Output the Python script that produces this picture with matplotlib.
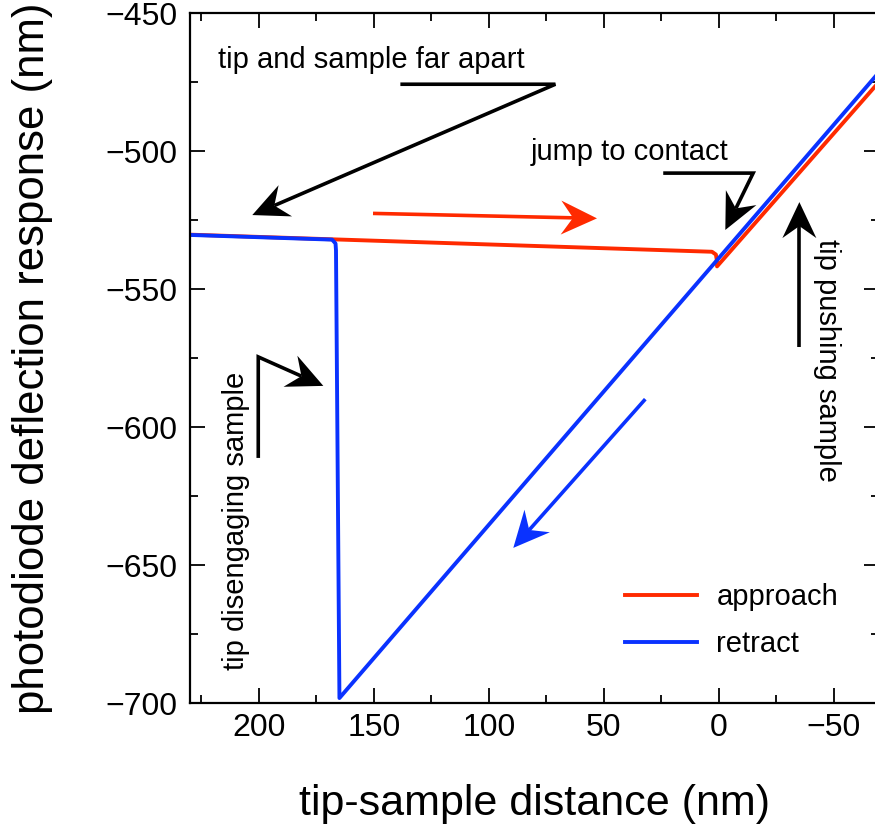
import numpy as np
import matplotlib
matplotlib.use('Agg')
import matplotlib.pyplot as plt
from matplotlib.lines import Line2D
from matplotlib.patches import Polygon
from matplotlib.transforms import IdentityTransform

plt.rcParams['font.family'] = ['Liberation Sans', 'DejaVu Sans']

# force curve (nm)
approach_x = [230, 3.0, 1.3, 0.9, 0.8, -69.6]
approach_y = [-530.3, -536.5, -537.5, -539.5, -541.8, -475.0]
retract_x = [-69.6, 165.0, 166.5, 166.7, 168.2, 230]
retract_y = [-471.5, -698.2, -536.0, -533.5, -532.1, -530.4]

red = '#ff2a00'
blue = '#0a32ff'

fig = plt.figure(figsize=(8.75, 8.3), dpi=100)
ax = fig.add_axes([0.2171, 0.1530, 0.7874, 0.8313])

ax.plot(approach_x, approach_y, color=red, lw=2.8, solid_joinstyle='round', label='approach')
ax.plot(retract_x, retract_y, color=blue, lw=2.8, solid_joinstyle='round', label='retract')

ax.set_xlim(230, -69.6)
ax.set_ylim(-700, -450)
ax.set_xticks([200, 150, 100, 50, 0, -50])
ax.set_xticks(np.arange(-50, 230, 25), minor=True)
ax.set_yticks(np.arange(-700, -449, 50))
ax.set_yticks(np.arange(-700, -449, 25), minor=True)
ax.tick_params(which='both', direction='in', top=True, right=True, width=1.3)
ax.tick_params(which='major', length=11, labelsize=23)
ax.tick_params(axis='y', which='major', pad=9)
ax.tick_params(axis='x', which='major', pad=7)
ax.tick_params(which='minor', length=6)
for s in ax.spines.values():
    s.set_linewidth(1.6)

ax.set_xlabel('tip-sample distance (nm)', fontsize=31, labelpad=30)
ax.set_ylabel('photodiode deflection response (nm)', fontsize=31.5, labelpad=38)

ax.legend(loc='upper left', bbox_to_anchor=(0.631, 0.174), frameon=False,
          fontsize=21, handlelength=2.47, handletextpad=0.67, labelspacing=0.65,
          borderpad=0, borderaxespad=0)


def stealth(pts, color, lw=2.6, L=36, W=17, notch=12):
    # polyline with a swept arrow head at the last point, built in pixels
    d = ax.transData.transform(np.array(pts, dtype=float))
    tip, prev = d[-1], d[-2]
    u = (tip - prev) / np.hypot(*(tip - prev))
    n = np.array([-u[1], u[0]])
    back = tip - (L - notch) * u
    path = np.vstack([d[:-1], back])
    ax.add_line(Line2D(path[:, 0], path[:, 1], transform=IdentityTransform(),
                       color=color, lw=lw, solid_joinstyle='miter',
                       solid_capstyle='butt', clip_on=False))
    head = [tip, tip - L * u + W * n, back, tip - L * u - W * n]
    ax.add_patch(Polygon(head, closed=True, transform=IdentityTransform(),
                         facecolor=color, edgecolor='none', clip_on=False))


stealth([(138.5, -475.8), (71.1, -475.8), (202.9, -523.2)], 'black')
stealth([(24.2, -508.0), (-14.9, -508.0), (-2.8, -528.6)], 'black')
stealth([(200.3, -611.2), (200.3, -574.6), (172.0, -585.1)], 'black')
stealth([(-35.0, -571.0), (-35.0, -518.5)], 'black')
stealth([(150.4, -522.6), (53.0, -524.4)], red)
stealth([(32.0, -589.9), (89.4, -643.8)], blue)

ax.text(217.7, -469.9, 'tip and sample far apart', fontsize=21, ha='left', va='baseline')
ax.text(82.0, -503.3, 'jump to contact', fontsize=21, ha='left', va='baseline')
ax.text(209.8, -634.0, 'tip disengaging sample', fontsize=21, rotation=90,
        ha='center', va='center')
ax.text(-47.1, -575.7, 'tip pushing sample', fontsize=21, rotation=270,
        ha='center', va='center')

fig.savefig('out.png', dpi=100)
